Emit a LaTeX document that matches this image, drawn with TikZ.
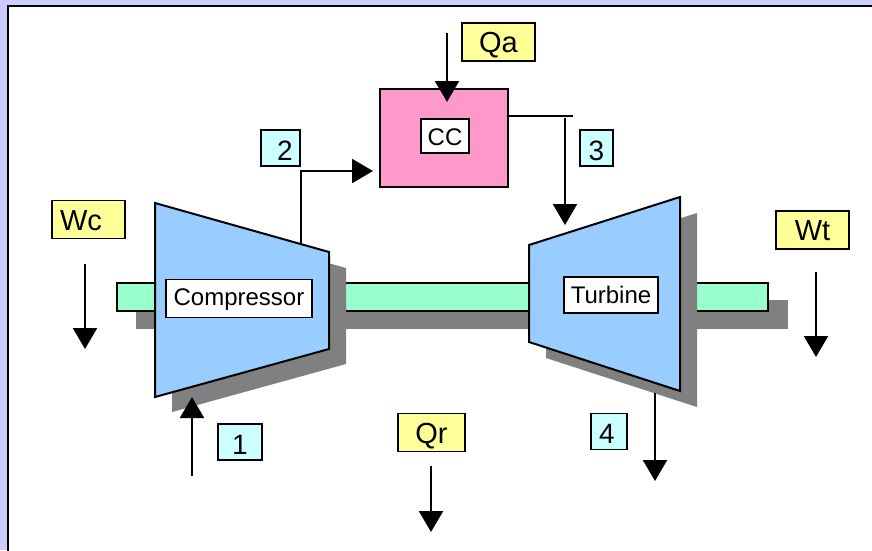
\documentclass[tikz,border=0pt]{standalone}
\usepackage{fontspec}
\setmainfont{Liberation Sans}
\usetikzlibrary{arrows.meta}
\definecolor{lav}{HTML}{CCCCFF}
\definecolor{blade}{HTML}{99CCFF}
\definecolor{shaftgreen}{HTML}{99FFCC}
\definecolor{heat}{HTML}{FFFF99}
\definecolor{statecyan}{HTML}{CCFFFF}
\definecolor{burner}{HTML}{FF99CC}
\definecolor{shadow}{HTML}{808080}
\tikzset{
	main/.style = {draw, line width=1.6pt, inner sep=0pt, text depth=0pt},
	tag/.style = {main, fill=heat, text height=21pt, font=\fontsize{29}{30}\selectfont},
	num/.style = {main, fill=statecyan, text height=24pt, font=\fontsize{28}{30}\selectfont},
	title/.style = {main, fill=white, font=\fontsize{24}{26}\selectfont},
	flow/.style = {line width=2.2pt, -{Triangle[width=24pt,length=21pt]}}
}
\begin{document}
\begin{tikzpicture}[x=1pt, y=-1pt]
		\clip (0,0) rectangle (872,550);
		\fill[lav] (0,0) rectangle (872,550);
		\draw[line width=2pt, fill=white] (8,6) rectangle (885,565);
		% shaft
		\fill[shadow] (136,300) rectangle (788,329);
		\draw[line width=1.6pt, fill=shaftgreen] (117,283) rectangle (768,311);
		% machines
		\fill[shadow] (172,219) -- (346,268) -- (346,364) -- (172,412) -- cycle;
		\fill[shadow] (546,358) -- (546,261) -- (697,213) -- (697,407) -- cycle;
		\draw[line width=2pt, fill=blade, line join=miter] (155,203) -- (329,252) -- (329,349) -- (155,397) -- cycle;
		\draw[line width=2pt, fill=blade, line join=miter] (529,245) -- (680,197) -- (680,391) -- (529,342) -- cycle;
		\node[main, fill=burner, minimum width=128pt, minimum height=98pt] (cc) at (444,138) {};
		% labels
		\node[title, text height=13pt, minimum width=146pt, minimum height=38pt] (comp) at (239,298.5) {Compressor};
		\node[title, text height=16pt, minimum width=94pt, minimum height=36pt] (turb) at (611,295) {Turbine};
		\node[title, text height=18pt, minimum width=48pt, minimum height=34pt] (cclabel) at (445,136) {CC};
		\node[tag, minimum width=73pt, minimum height=38pt] (wc) at (88.5,219.5) {Wc\hspace{15pt}\null};
		\node[tag, minimum width=73pt, minimum height=38pt] (qa) at (498.5,42) {Qa};
		\node[tag, minimum width=73pt, minimum height=38pt] (wt) at (812.5,230) {Wt};
		\node[tag, minimum width=67pt, minimum height=38pt] (qr) at (431.5,432.5) {Qr};
		\node[num, minimum width=44pt, minimum height=36pt] (1) at (240,442) {1};
		\node[num, minimum width=39pt, minimum height=36pt] (2) at (280.5,148) {\hspace{9pt}2};
		\node[num, minimum width=33pt, minimum height=36pt] (3) at (596.5,148) {3};
		\node[num, minimum width=36pt, minimum height=36pt] (4) at (609,431.5) {4\hspace{4pt}\null};
		% free ends
		\coordinate (wcin) at (85,264);
		\coordinate (wcout) at (85,349);
		\coordinate (wtin) at (816,272);
		\coordinate (wtout) at (816,357);
		\coordinate (qain) at (447,33);
		\coordinate (qaout) at (447,102);
		\coordinate (qrin) at (431,466);
		\coordinate (qrout) at (431,532);
		\coordinate (in1) at (192,476);
		\coordinate (out1) at (192,397);
		\coordinate (in2) at (301,244);
		\coordinate (out2) at (373,171);
		\coordinate (in3) at (508,116);
		\coordinate (mid3) at (573,116);
		\coordinate (top3) at (565,118);
		\coordinate (out3) at (565,225);
		\coordinate (in4) at (655,393);
		\coordinate (out4) at (655,481);
		% connectors
		\draw[flow] (wcin) -- (wcout);
		\draw[flow] (wtin) -- (wtout);
		\draw[flow] (qain) -- (qaout);
		\draw[flow] (qrin) -- (qrout);
		\draw[flow] (in1) -- (out1);
		\draw[flow] (in2) |- (out2);
		\draw[line width=2.2pt] (in3) -- (mid3);
		\draw[flow] (top3) -- (out3);
		\draw[flow] (in4) -- (out4);
		\end{tikzpicture}
\end{document}
